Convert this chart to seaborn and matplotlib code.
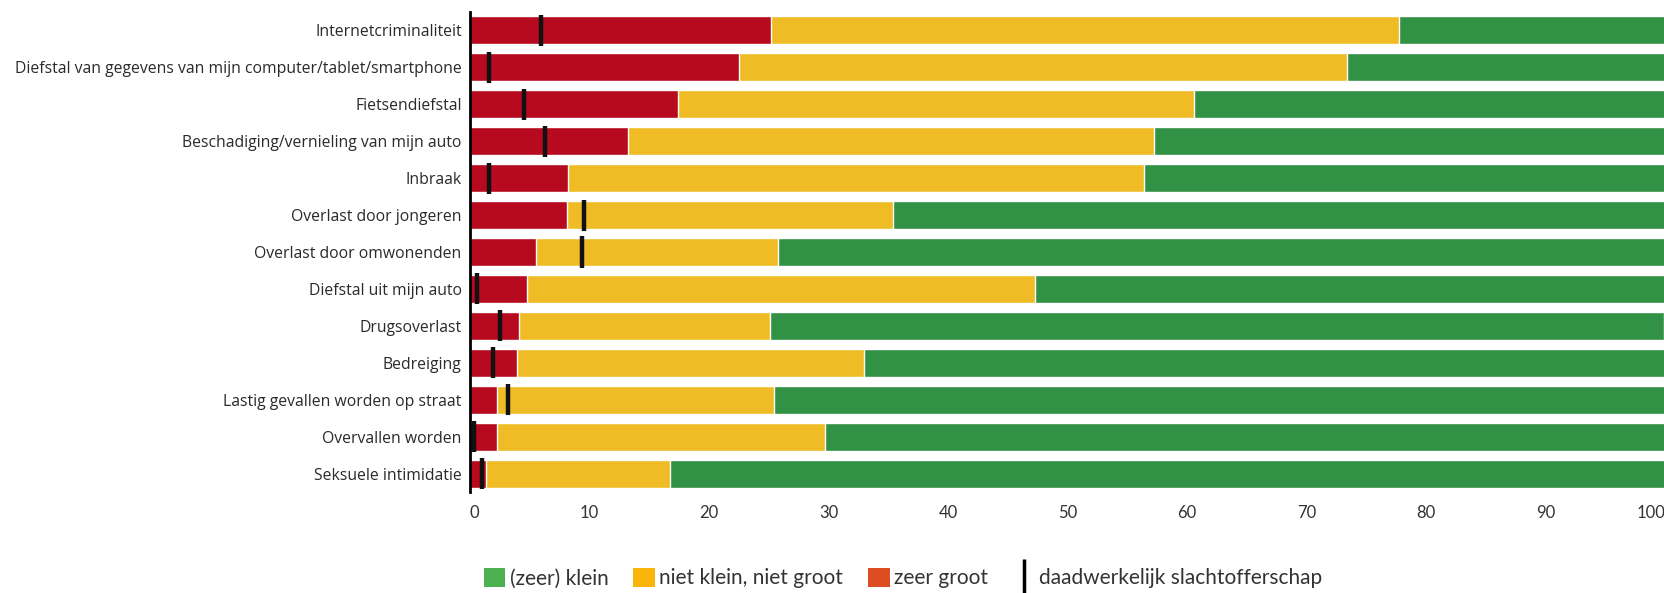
import numpy as np
import pandas as pd
import matplotlib
matplotlib.use("Agg")
import matplotlib.pyplot as plt
import seaborn as sns
from matplotlib.patches import Patch
from matplotlib.lines import Line2D
from matplotlib.font_manager import FontProperties

categories = [
    "Internetcriminaliteit",
    "Diefstal van gegevens van mijn computer/tablet/smartphone",
    "Fietsendiefstal",
    "Beschadiging/vernieling van mijn auto",
    "Inbraak",
    "Overlast door jongeren",
    "Overlast door omwonenden",
    "Diefstal uit mijn auto",
    "Drugsoverlast",
    "Bedreiging",
    "Lastig gevallen worden op straat",
    "Overvallen worden",
    "Seksuele intimidatie",
]
zeer_groot = [25.2, 22.5, 17.4, 13.2, 8.2, 8.1, 5.5, 4.8, 4.1, 3.9, 2.3, 2.3, 1.3]
niet_klein_niet_groot = [52.5, 50.9, 43.2, 44.0, 48.2, 27.3, 20.3, 42.5, 21.0, 29.1, 23.1, 27.4, 15.4]
zeer_klein = [22.3, 26.6, 39.4, 42.8, 43.6, 64.6, 74.2, 52.7, 74.8, 67.0, 74.6, 70.3, 83.3]
slachtofferschap = [5.9, 1.6, 4.5, 6.3, 1.6, 9.5, 9.4, 0.6, 2.5, 1.9, 3.2, 0.3, 1.0]
x_ticks = [0, 10, 20, 30, 40, 50, 60, 70, 80, 90, 100]
legend_labels = ["(zeer) klein", "niet klein, niet groot", "zeer groot", "daadwerkelijk slachtofferschap"]

df = pd.DataFrame({
    "cat": categories,
    "red": zeer_groot,
    "yellow": niet_klein_niet_groot,
    "green": zeer_klein,
    "victim": slachtofferschap,
})
df["cum_yellow"] = df["red"] + df["yellow"]
df["cum_green"] = df["cum_yellow"] + df["green"]

RED = "#B70A1E"
YELLOW = "#F0BC26"
GREEN = "#319144"

sns.set_style("white")
plt.rcParams["font.family"] = ["Open Sans", "DejaVu Sans"]

fig = plt.figure(figsize=(16.65, 5.93), dpi=100)
ax = fig.add_axes([470 / 1665, 1 - 492 / 593, 1 - 470 / 1665, (492 - 12) / 593])

bw = 0.76
sns.barplot(data=df, y="cat", x="cum_green", color=GREEN, orient="h", width=bw,
            ax=ax, saturation=1, order=categories)
sns.barplot(data=df, y="cat", x="cum_yellow", color=YELLOW, orient="h", width=bw,
            ax=ax, saturation=1, order=categories)
sns.barplot(data=df, y="cat", x="red", color=RED, orient="h", width=bw,
            ax=ax, saturation=1, order=categories)

pos = np.arange(len(categories))
ax.vlines(df["victim"], pos - 0.42, pos + 0.42, color="#111111", linewidth=3.2, zorder=5)

ax.set_xlim(0, 100)
ax.set_ylim(len(categories) - 0.5, -0.5)
ax.set_xlabel("")
ax.set_ylabel("")
ax.set_xticks(x_ticks)
ax.set_xticklabels([str(t) for t in x_ticks], fontsize=12, color="#333333",
                   family=["Lato", "DejaVu Sans"])
labs = ax.get_xticklabels()
labs[0].set_ha("left")
labs[-1].set_ha("right")
ax.tick_params(axis="x", length=0, pad=9)
ax.tick_params(axis="y", length=0, pad=6, labelsize=11.3, labelcolor="#2a2a2a")

for s in ["top", "right", "bottom"]:
    ax.spines[s].set_visible(False)
ax.spines["left"].set_color("black")
ax.spines["left"].set_linewidth(2)
ax.grid(False)

handles = [
    Patch(facecolor="#4CAF50", edgecolor="none"),
    Patch(facecolor="#FBB40A", edgecolor="none"),
    Patch(facecolor="#DC4D22", edgecolor="none"),
    Line2D([], [], marker="|", linestyle="None", markersize=24, markeredgewidth=2.5, color="black"),
]
fp = FontProperties(family=["Lato", "DejaVu Sans"], weight="normal", size=15)
fig.legend(handles, legend_labels, loc="center", bbox_to_anchor=(903 / 1665, 1 - 578 / 593),
           ncol=4, frameon=False, prop=fp, handlelength=1.05, handleheight=1.05,
           handletextpad=0.2, columnspacing=1.2, labelcolor="#333333", borderaxespad=0, borderpad=0)

fig.savefig("out.png", dpi=100)
